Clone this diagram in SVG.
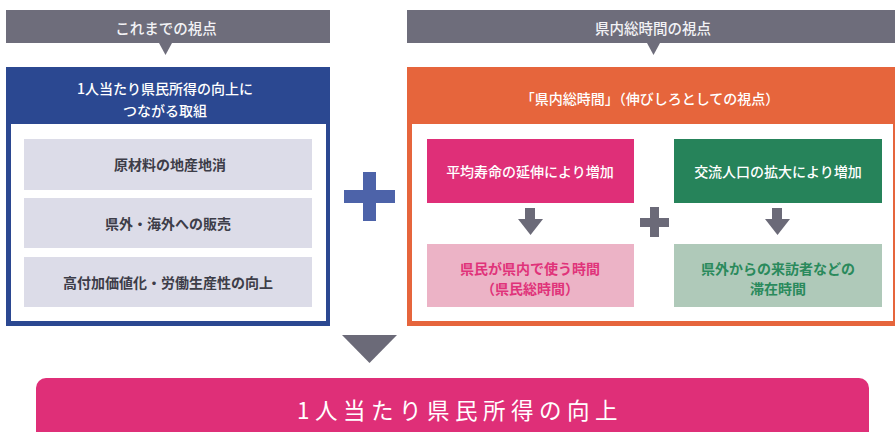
<svg xmlns="http://www.w3.org/2000/svg" width="895" height="432" viewBox="0 0 895 432">
<style>
text{font-family:"Noto Sans CJK JP","Noto Sans",sans-serif;text-anchor:middle;dominant-baseline:central}
.hd{fill:#6e6d7b}
.hdt{fill:#f2f2f5;font-size:14.5px;font-weight:500}
.wt{fill:#ffffff;font-size:14px;font-weight:500}
.item{fill:#dcdce8}
.it{fill:#3d3d48;font-size:14px;font-weight:700}
.gr{fill:#6b6a78}
</style>
<rect width="895" height="432" fill="#ffffff"/>

<g id="header-left">
<rect class="hd" x="6" y="10" width="324" height="33"/>
<polygon class="hd" points="159,43 172,43 165.5,55"/>
<text class="hdt" x="166" y="27">これまでの視点</text>
</g>

<g id="header-right">
<rect class="hd" x="407" y="10" width="488" height="33"/>
<polygon class="hd" points="647,43 660,43 653.5,55"/>
<text class="hdt" x="653" y="27">県内総時間の視点</text>
</g>

<g id="left-panel">
<rect x="6" y="67" width="324" height="259" fill="#2b4891"/>
<rect x="11" y="124" width="315" height="197" fill="#ffffff"/>
<text class="wt" x="165" y="88">1人当たり県民所得の向上に</text>
<text class="wt" x="165" y="110">つながる取組</text>
</g>

<g id="item-1">
<rect class="item" x="24" y="139" width="288" height="51"/>
<text class="it" x="170" y="164">原材料の地産地消</text>
</g>
<g id="item-2">
<rect class="item" x="24" y="198" width="288" height="50"/>
<text class="it" x="168" y="223">県外・海外への販売</text>
</g>
<g id="item-3">
<rect class="item" x="24" y="257" width="288" height="50"/>
<text class="it" x="168" y="282">高付加価値化・労働生産性の向上</text>
</g>

<g id="plus-big">
<rect x="344" y="190" width="51" height="13" fill="#4d63a9"/>
<rect x="363" y="172" width="13" height="49" fill="#4d63a9"/>
</g>

<g id="right-panel">
<rect x="407" y="67" width="488" height="259" fill="#e6653c"/>
<rect x="412" y="124" width="481" height="197" fill="#ffffff"/>
<text class="wt" x="650" y="98">「県内総時間」（伸びしろとしての視点）</text>
</g>

<g id="box-lifespan">
<rect x="427" y="139" width="207" height="64" fill="#df2f78"/>
<text class="wt" x="530" y="171">平均寿命の延伸により増加</text>
</g>
<g id="box-exchange">
<rect x="674" y="139" width="208" height="64" fill="#26835a"/>
<text class="wt" x="778" y="171">交流人口の拡大により増加</text>
</g>
<g id="box-resident-time">
<rect x="427" y="244" width="207" height="63" fill="#ecb3c6"/>
<text x="530" y="268" style="fill:#e0337a;font-size:14px;font-weight:700">県民が県内で使う時間</text>
<text x="530" y="288" style="fill:#e0337a;font-size:14px;font-weight:700">（県民総時間）</text>
</g>
<g id="box-visitor-time">
<rect x="674" y="244" width="208" height="63" fill="#afc9b9"/>
<text x="778" y="268" style="fill:#2a8a5c;font-size:14px;font-weight:700">県外からの来訪者などの</text>
<text x="778" y="288" style="fill:#2a8a5c;font-size:14px;font-weight:700">滞在時間</text>
</g>

<g id="connectors">
<rect class="gr" x="525" y="208" width="10" height="12"/>
<polygon class="gr" points="518,219 543,219 530.5,235"/>
<rect class="gr" x="772" y="208" width="10" height="12"/>
<polygon class="gr" points="765,219 790,219 777.5,235"/>
<rect class="gr" x="640" y="218" width="29" height="9"/>
<rect class="gr" x="650" y="207" width="9" height="30"/>
<polygon class="gr" points="342,335 397,335 369.5,363"/>
</g>

<g id="result">
<rect x="36" y="378" width="833" height="70" rx="10" fill="#df2f78"/>
<text x="460" y="409" style="fill:#ffffff;font-size:22.5px;font-weight:400;letter-spacing:5.5px">1人当たり県民所得の向上</text>
</g>
</svg>
